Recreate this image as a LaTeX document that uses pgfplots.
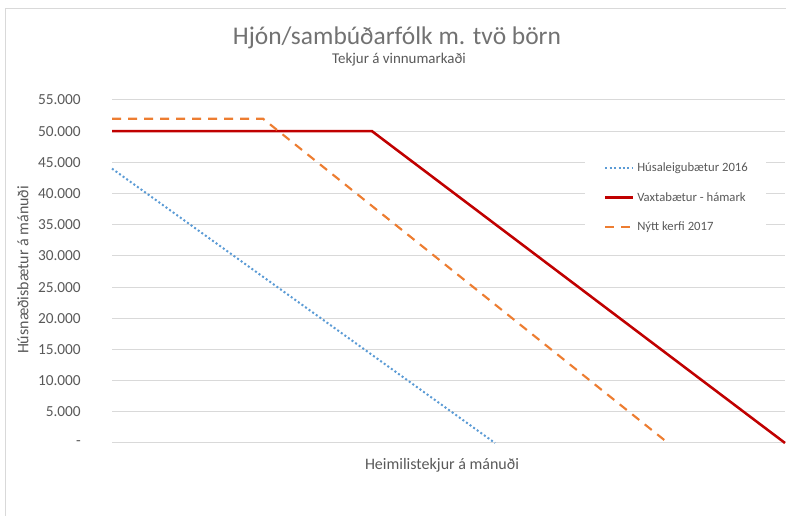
\documentclass[border=0pt]{standalone}
\usepackage{pgfplots}
\pgfplotsset{compat=1.18}
\usepackage{fontspec}
\setmainfont{Carlito}
\definecolor{txt}{HTML}{595959}
\definecolor{grd}{HTML}{D9D9D9}
\definecolor{cblue}{HTML}{5B9BD5}
\definecolor{cred}{HTML}{C00000}
\definecolor{corange}{HTML}{ED7D31}
\begin{document}
\begin{tikzpicture}[x=0.75pt,y=0.75pt]
\path[use as bounding box] (0,0) rectangle (786,516);
\draw[grd,line width=0.75pt] (5,0) -- (5,507) -- (786,507);
\node[txt!85!white,font=\fontsize{19.1}{22}\selectfont] at (397,478) {Hjón/sambúðarfólk m. tvö börn};
\node[txt,font=\fontsize{11.2}{13}\selectfont] at (399,456) {Tekjur á vinnumarkaði};
\node[txt,font=\fontsize{12}{14}\selectfont] at (442,51) {Heimilistekjur á mánuði};
\node[txt,font=\fontsize{12}{14}\selectfont,rotate=90] at (23,246) {Húsnæðisbætur á mánuði};
\begin{axis}[
  at={(112pt*0.75,73pt*0.75)}, anchor=south west,
  scale only axis, width=504.75pt, height=257.25pt,
  xmin=0, xmax=673, ymin=0, ymax=55000,
  axis line style={draw=none},
  xtick=\empty,
  ytick={0,5000,...,55000},
  scaled y ticks=false,
  yticklabels={-,5.000,10.000,15.000,20.000,25.000,30.000,35.000,40.000,45.000,50.000,55.000},
  /pgf/number format/assume math mode=true,
  ymajorgrids, major grid style={grd,line width=0.75pt},
  major tick length=0pt,
  yticklabel style={anchor=east,inner sep=0pt,xshift=-23.25pt,text=txt,font=\fontsize{11.5}{13}\selectfont},
  clip=false,
  legend cell align=left,
  legend style={at={(0.703,0.854)},anchor=north west,draw=none,fill=white,
    font=\fontsize{9.5}{11}\selectfont,text=txt,
    nodes={inner sep=0pt,text height=7pt,text depth=2pt},
    row sep=13.0pt, column sep=2pt, inner xsep=14pt, inner ysep=9pt},
  legend image code/.code={\draw[#1] (0pt,0pt) -- (21pt,0pt);},
]
\addplot[cblue,line width=1.5pt,dash pattern=on 1.5pt off 1.8pt] coordinates {(0,44000) (383,0)};
\addlegendentry{Húsaleigubætur 2016}
\addplot[cred,line width=1.9pt] coordinates {(0,50000) (260,50000) (673,0)};
\addlegendentry{Vaxtabætur - hámark}
\addplot[corange,line width=1.6pt,dash pattern=on 6.75pt off 5.25pt] coordinates {(0,52000) (151,52000) (556,0)};
\addlegendentry{Nýtt kerfi 2017}
\end{axis}
\end{tikzpicture}
\end{document}
